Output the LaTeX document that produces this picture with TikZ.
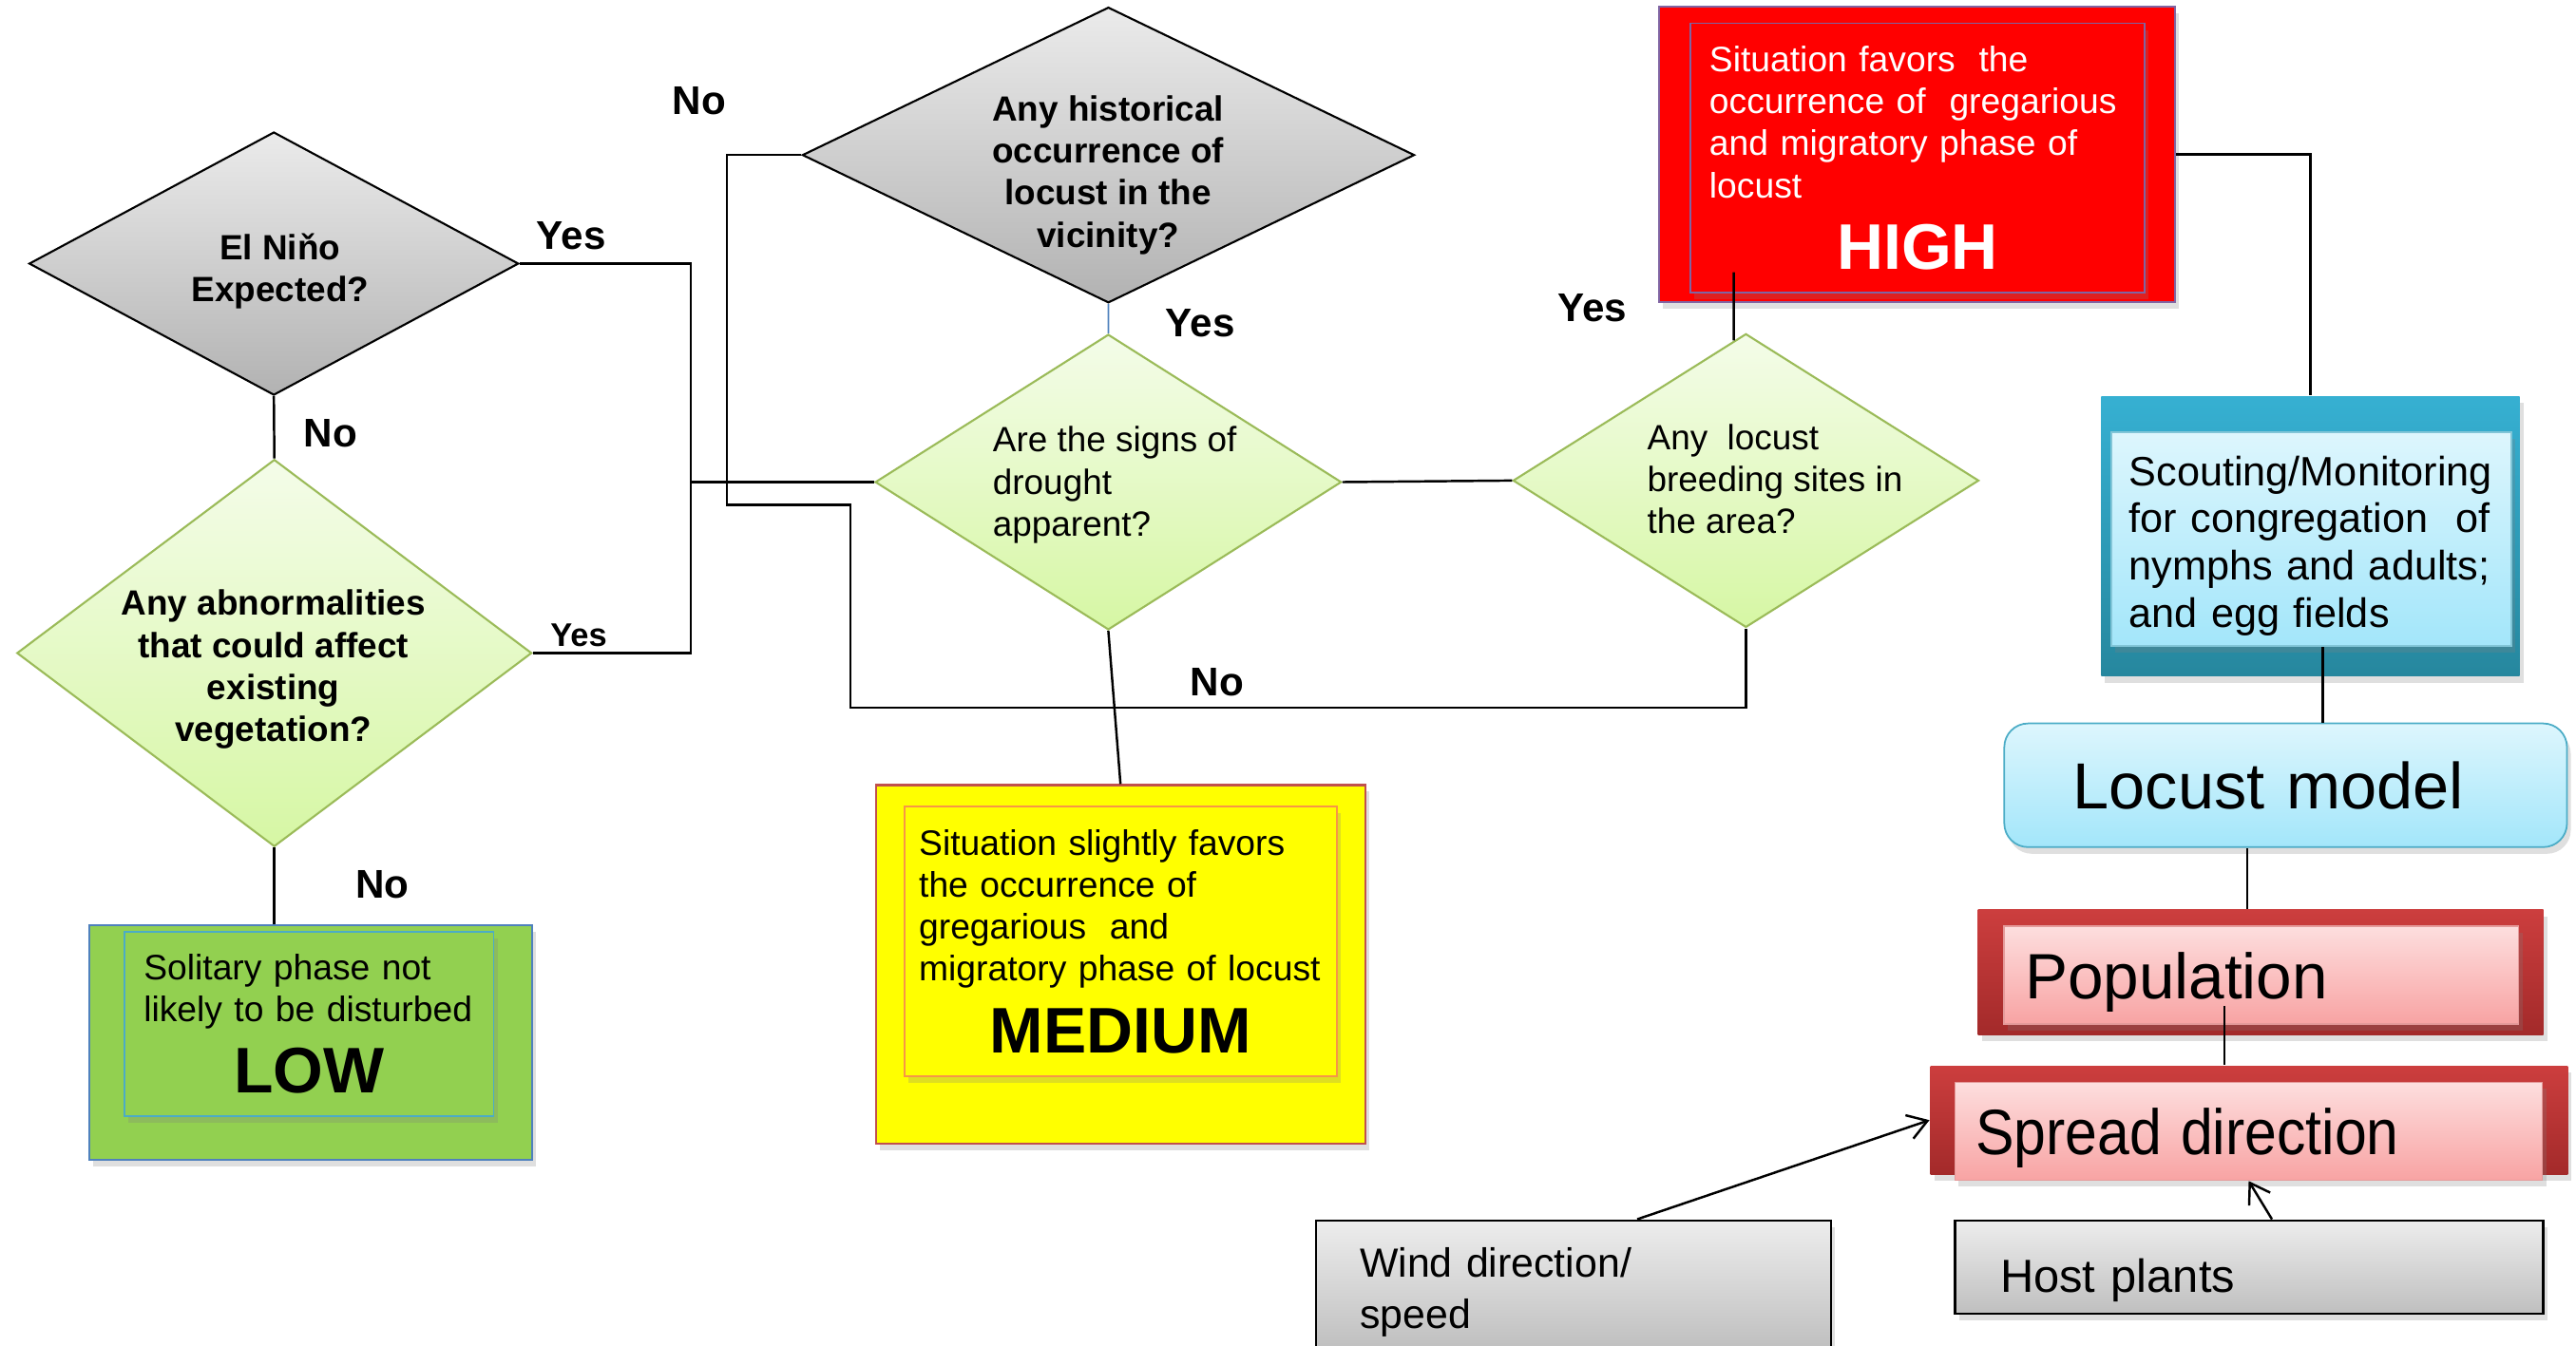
\documentclass[tikz,border=0pt]{standalone}
\usepackage{fontspec}
\setmainfont{Liberation Sans}
\usepackage{tikz}
\usetikzlibrary{shapes.geometric,shadows,arrows.meta}

\definecolor{diagrey}{HTML}{EBEBEB}
\definecolor{diagreydark}{HTML}{B2B2B2}
\definecolor{diagreen}{HTML}{F4FCE9}
\definecolor{diagreendark}{HTML}{D6F7A4}
\definecolor{diagreenline}{HTML}{9BBB59}
\definecolor{lowgreen}{HTML}{92D050}
\definecolor{lowblue}{HTML}{4F81BD}
\definecolor{lowinner}{HTML}{4BACC6}
\definecolor{medred}{HTML}{C0504D}
\definecolor{medorange}{HTML}{F79646}
\definecolor{medyellow}{HTML}{FFFF00}
\definecolor{highline}{HTML}{8064A2}
\definecolor{scouttop}{HTML}{36B0D2}
\definecolor{scoutbot}{HTML}{26879E}
\definecolor{icetop}{HTML}{DDF6FD}
\definecolor{icebot}{HTML}{A3E6FA}
\definecolor{iceline}{HTML}{4BACC6}
\definecolor{poptop}{HTML}{CC3E3E}
\definecolor{popbot}{HTML}{A32A2A}
\definecolor{pinktop}{HTML}{FDDEDE}
\definecolor{pinkbot}{HTML}{F8A3A3}
\definecolor{pinkline}{HTML}{E49A9A}
\definecolor{boxgrey}{HTML}{EDEDED}
\definecolor{boxgreydark}{HTML}{BFBFBF}
\definecolor{linkblue}{HTML}{4F81BD}

\def\levelword#1{\par{\centering\fontsize{19.3}{21.5}\selectfont\bfseries #1\par}}
\def\lift#1{\rule{0pt}{#1}}

\tikzset{
	greydia/.style={diamond, draw=black, line width=0.6pt, top color=diagrey, bottom color=diagreydark, inner sep=0pt},
	greendia/.style={diamond, draw=diagreenline, line width=0.6pt, top color=diagreen, bottom color=diagreendark, inner sep=0pt},
	qbold/.style={font=\fontsize{10.5}{12.6}\selectfont\bfseries, align=center, inner sep=0pt},
	qplain/.style={font=\fontsize{10.5}{12.6}\selectfont, align=left, inner sep=0pt},
	yesno/.style={font=\fontsize{12}{14}\selectfont\bfseries, anchor=base, inner sep=0pt},
	link/.style={line width=0.7pt},
	boxshadow/.style={drop shadow={opacity=0.25, shadow xshift=0.4mm, shadow yshift=-0.7mm}},
	levelbox/.style={rectangle, line width=0.6pt, inner sep=0pt},
	leveltext/.style={rectangle, line width=0.5pt, align=left, inner ysep=0pt, font=\fontsize{10.6}{12.6}\selectfont, boxshadow},
	greybox/.style={rectangle, draw=black, line width=0.6pt, top color=boxgrey, bottom color=boxgreydark, align=left, inner ysep=0pt},
	arrowtip/.style={-{Straight Barb[length=2mm, width=2.6mm]}}
}

\begin{document}
\begin{tikzpicture}
		%%%%% START %%%%%
		\useasboundingbox (0, 0) rectangle (27.11, 14.16);
		\clip (0, 0) rectangle (27.11, 14.16);
		
		% questions
		\node[greydia, minimum width=5.152cm, minimum height=2.770cm] (nino) at (2.882, 11.385) {};
		\node[qbold] (ninotext) at (2.948, 11.307) {El Niňo\\Expected?};
		
		\node[greendia, minimum width=5.419cm, minimum height=4.075cm] (abnorm) at (2.887, 7.285) {};
		\node[qbold] (abnormtext) at (2.877, 7.113) {Any abnormalities\\that could affect\\existing\\vegetation?};
		
		\node[greydia, minimum width=6.442cm, minimum height=3.112cm] (hist) at (11.665, 12.528) {};
		\node[qbold] (histtext) at (11.662, 12.319) {Any historical\\occurrence of\\locust in the\\vicinity?};
		
		\node[greendia, minimum width=4.907cm, minimum height=3.110cm] (drought) at (11.664, 9.085) {};
		\node[qplain] (droughttext) at (11.731, 9.054) {Are the signs of\\drought\\apparent?};
		
		\node[greendia, minimum width=4.902cm, minimum height=3.091cm] (breed) at (18.374, 9.101) {};
		\node[qplain] (breedtext) at (18.680, 9.119) {Any\ \ locust\\breeding sites in\\the area?};
		
		% risk levels
		\node[levelbox, draw=lowblue, fill=lowgreen, boxshadow, minimum width=4.661cm, minimum height=2.462cm] (lowout) at (3.268, 3.185) {};
		\node[leveltext, draw=lowinner, fill=lowgreen, minimum width=3.885cm, minimum height=1.943cm, text width=3.480cm, inner xsep=0.202cm] (lowin) at (3.253, 3.382) {Solitary phase not\\likely to be disturbed\levelword{LOW}};
		
		\node[levelbox, draw=medred, fill=medyellow, boxshadow, minimum width=5.152cm, minimum height=3.773cm] (medout) at (11.792, 4.009) {};
		\node[leveltext, draw=medorange, fill=medyellow, minimum width=4.545cm, minimum height=2.844cm, text width=4.245cm, inner xsep=0.15cm] (medin) at (11.794, 4.249) {Situation slightly favors\\the occurrence of\\gregarious\ \ and\\migratory phase of locust\levelword{MEDIUM}};
		
		\node[levelbox, draw=highline, fill=red, boxshadow, minimum width=5.429cm, minimum height=3.114cm] (highout) at (20.177, 12.536) {};
		\node[leveltext, draw=highline, fill=red, text=white, minimum width=4.781cm, minimum height=2.832cm, text width=4.383cm, inner xsep=0.199cm] (highin) at (20.181, 12.498) {Situation favors\ \ the\\occurrence of\ \ gregarious\\and migratory phase of\\locust\levelword{HIGH}};
		
		% model side
		\node[levelbox, top color=scouttop, bottom color=scoutbot, boxshadow, minimum width=4.402cm, minimum height=2.944cm] (scoutout) at (24.314, 8.514) {};
		\node[leveltext, draw=iceline!70, top color=icetop, bottom color=icebot, font=\fontsize{12.3}{14.2}\selectfont, minimum width=4.212cm, minimum height=2.256cm, text width=3.832cm, inner xsep=0.19cm] (scoutin) at (24.323, 8.485) {\lift{13pt}Scouting/Monitoring\\for congregation\ \ of\\nymphs and adults;\\and egg fields};
		
		\node[leveltext, draw=iceline, top color=icetop, bottom color=icebot, rounded corners=0.25cm, font=\fontsize{19.5}{22}\selectfont, minimum width=5.922cm, minimum height=1.302cm, text width=4.476cm, inner xsep=0.723cm] (model) at (24.054, 5.893) {Locust model};
		
		\node[levelbox, top color=poptop, bottom color=popbot, boxshadow, minimum width=5.948cm, minimum height=1.314cm] (popout) at (23.791, 3.924) {};
		\node[leveltext, draw=pinkline, top color=pinktop, bottom color=pinkbot, font=\fontsize{19.2}{22}\selectfont, minimum width=5.412cm, minimum height=1.029cm, text width=4.976cm, inner xsep=0.218cm] (popin) at (23.799, 3.894) {\lift{18pt}Population};
		
		\node[levelbox, top color=poptop, bottom color=popbot, boxshadow, minimum width=6.708cm, minimum height=1.141cm] (spreadout) at (23.670, 2.368) {};
		\node[leveltext, draw=pinkline, top color=pinktop, bottom color=pinkbot, font=\fontsize{19.2}{22}\selectfont, minimum width=6.181cm, minimum height=1.030cm, text width=5.749cm, inner xsep=0.216cm] (spreadin) at (23.665, 2.251) {\lift{18pt}\scalebox{0.9}[1]{Spread direction}};
		
		\node[greybox, boxshadow, font=\fontsize{12.2}{15.2}\selectfont, minimum width=5.422cm, minimum height=1.366cm, text width=4.498cm, inner xsep=0.462cm] (wind) at (16.560, 0.631) {\lift{13pt}Wind direction/\\speed};
		\node[greybox, boxshadow, font=\fontsize{13.9}{16}\selectfont, minimum width=6.190cm, minimum height=0.986cm, text width=5.240cm, inner xsep=0.475cm] (host) at (23.670, 0.821) {\lift{18pt}Host plants};
		
		% answers
		\node[yesno] (ninoyes) at (6.013, 11.534) {Yes};
		\node[yesno] (ninono) at (3.480, 9.459) {No};
		\node[yesno, font=\fontsize{9.8}{12}\selectfont\bfseries] (abnormyes) at (6.090, 7.360) {Yes};
		\node[yesno] (abnormno) at (4.023, 4.703) {No};
		\node[yesno] (histno) at (7.361, 12.950) {No};
		\node[yesno] (histyes) at (12.633, 10.616) {Yes};
		\node[yesno] (breedyes) at (16.757, 10.771) {Yes};
		\node[yesno] (breedno) at (12.807, 6.840) {No};
		
		% connectors
		\coordinate (yesjoin) at (7.270, 9.085);
		\draw[link] (nino.east) -| (yesjoin) |- (abnorm.east);
		\draw[link] (yesjoin) -- (drought.west);
		\draw[link] (nino.south) -- (abnorm.north);
		\draw[link] (abnorm.south) -- (abnorm.south |- lowout.north);
		
		\coordinate (nobend1) at (7.651, 8.843);
		\coordinate (nobend2) at (8.949, 6.712);
		\draw[link] (hist.west) -| (nobend1) -| (nobend2) -| (breed.south);
		\draw[draw=linkblue, line width=0.5pt] (hist.south) -- (drought.north);
		\draw[link] (drought.south) -- (medout.north);
		\draw[link] (drought.east) -- (breed.west);
		
		\coordinate (hightail) at (18.246, 11.293);
		\draw[link] (breed.95) -- (hightail);
		\draw[link] (highout.east) -| (scoutout.north);
		
		\coordinate (scouttail) at ([xshift=0.12cm]scoutin.south);
		\draw[link] (scouttail) -- (scouttail |- model.north);
		\coordinate (popjoin) at ([xshift=-0.14cm]popout.north);
		\draw[link] (popjoin) -- (popjoin |- model.south);
		\coordinate (spreadjoin) at ([xshift=-0.39cm, yshift=0.2cm]popin.south);
		\draw[link] (spreadjoin) -- (spreadjoin |- spreadout.north);
		
		\coordinate (windtail) at ([xshift=0.67cm]wind.north);
		\draw[link, arrowtip] (windtail) -- (spreadout.west);
		\coordinate (hosttail) at ([xshift=0.24cm]host.north);
		\draw[link, arrowtip] (hosttail) -- (spreadin.south);
		%%%%% END %%%%%
	\end{tikzpicture}
\end{document}
